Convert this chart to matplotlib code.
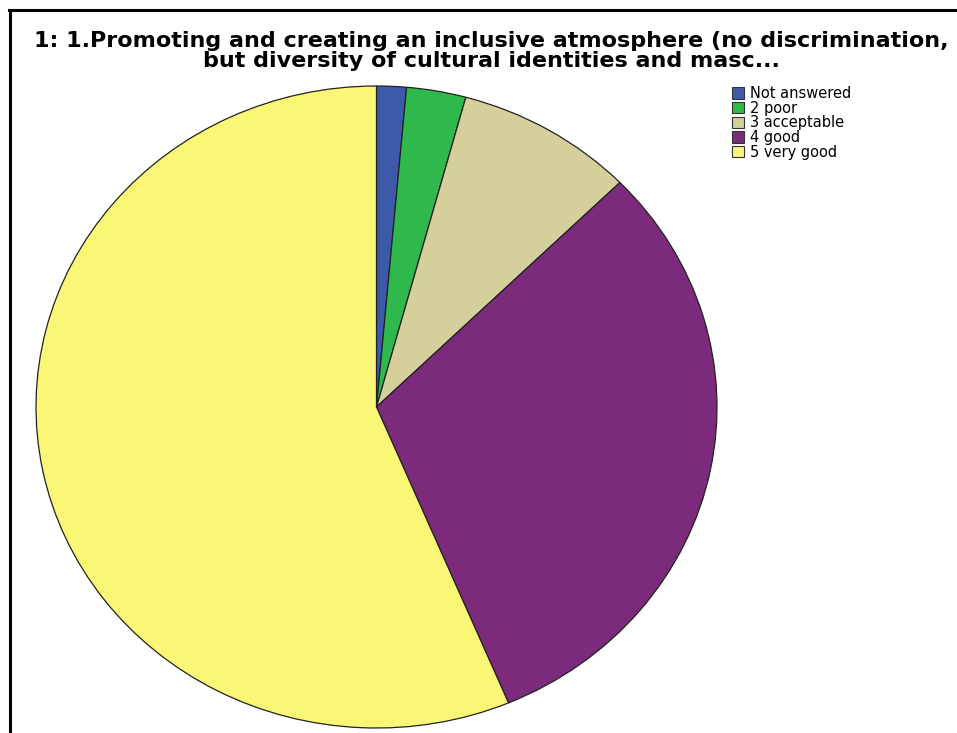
import matplotlib
matplotlib.use("Agg")
import matplotlib.pyplot as plt
from matplotlib.lines import Line2D

categories = ["Not answered", "2 poor", "3 acceptable", "4 good", "5 very good"]
counts = [1, 2, 6, 22, 40]
colors = ["#3d59aa", "#2fb84b", "#d4cf9b", "#7b2a7c", "#faf676"]
title = ("1: 1.Promoting and creating an inclusive atmosphere (no discrimination,\n"
         "but diversity of cultural identities and masc...")

W, H = 957, 733
fig = plt.figure(figsize=(W / 100, H / 100), dpi=100)
fig.patch.set_facecolor("white")

# frame lines (top and left)
fig.add_artist(Line2D([9 / W, 1.0], [1 - 10 / H, 1 - 10 / H], color="black", lw=2.2))
fig.add_artist(Line2D([10 / W, 10 / W], [0, 1 - 10 / H], color="black", lw=2.2))

fig.text(491 / W, 1 - 51 / H, title, ha="center", va="center",
         fontsize=16, fontweight="bold", linespacing=0.98,
         family=["DejaVu Sans"])

ax = fig.add_axes([36 / W, 5 / H, 681 / W, 642 / H])
wedges, _ = ax.pie(counts, colors=colors, startangle=90, counterclock=False,
                   wedgeprops=dict(edgecolor="#222222", linewidth=0.9))
ax.set_aspect("auto")
ax.set_xlim(-1, 1)
ax.set_ylim(-1, 1)
ax.axis("off")

leg = fig.legend(wedges, categories, loc="upper left",
                 bbox_to_anchor=(732 / W, 1 - 86 / H), frameon=False,
                 fontsize=10.5, labelspacing=-0.02, handlelength=0.8,
                 handleheight=0.8, handletextpad=0.4, borderpad=0,
                 borderaxespad=0)
for h in leg.legend_handles:
    h.set_edgecolor("#333333")
    h.set_linewidth(0.8)

fig.savefig("out.png", dpi=100)
